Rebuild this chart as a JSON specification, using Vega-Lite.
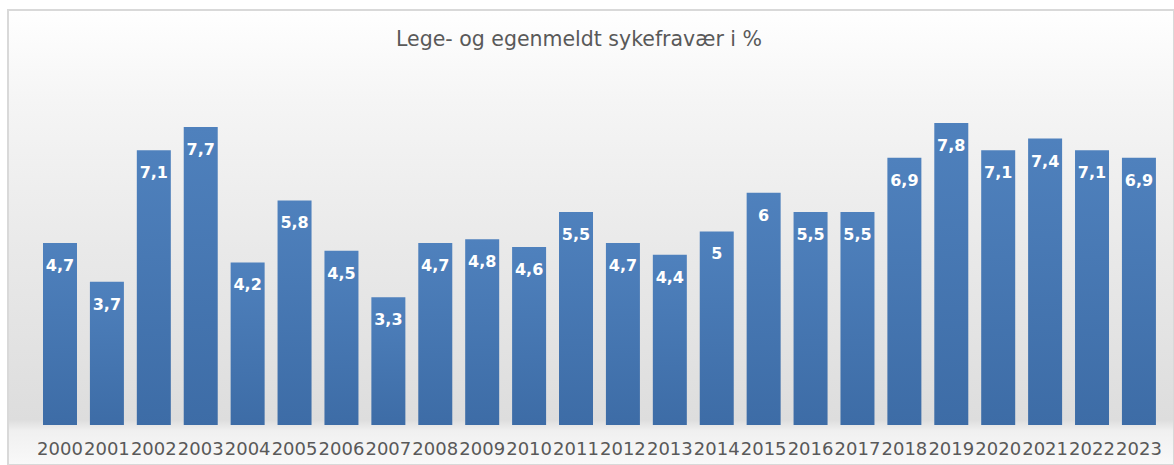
{
  "$schema": "https://vega.github.io/schema/vega-lite/v6.json",
  "autosize": "none",
  "width": 1166,
  "height": 455,
  "padding": {"left": 8, "top": 10, "right": 0, "bottom": 0},
  "background": "#ffffff",
  "config": {
    "locale": {"number": {"decimal": ",", "thousands": " ", "grouping": [3], "currency": ["", " kr"]}},
    "view": {
      "stroke": "#d9d9d9",
      "strokeWidth": 2,
      "fill": {
        "gradient": "linear", "x1": 0, "y1": 0, "x2": 0, "y2": 1,
        "stops": [
          {"offset": 0, "color": "#ffffff"},
          {"offset": 0.2, "color": "#f5f5f5"},
          {"offset": 0.53, "color": "#e9e9e9"},
          {"offset": 0.9, "color": "#dddddd"},
          {"offset": 0.925, "color": "#f0f0f0"},
          {"offset": 1, "color": "#f9f9f9"}
        ]
      }
    }
  },
  "title": {
    "text": "Lege- og egenmeldt sykefravær i %",
    "orient": "top",
    "anchor": "middle",
    "frame": "group",
    "offset": -36,
    "baseline": "alphabetic",
    "dx": -12,
    "dy": 20,
    "font": "DejaVu Sans",
    "fontSize": 20.5,
    "fontWeight": "normal",
    "color": "#595959"
  },
  "data": {
    "values": [
      {"year": "2000", "value": 4.7},
      {"year": "2001", "value": 3.7},
      {"year": "2002", "value": 7.1},
      {"year": "2003", "value": 7.7},
      {"year": "2004", "value": 4.2},
      {"year": "2005", "value": 5.8},
      {"year": "2006", "value": 4.5},
      {"year": "2007", "value": 3.3},
      {"year": "2008", "value": 4.7},
      {"year": "2009", "value": 4.8},
      {"year": "2010", "value": 4.6},
      {"year": "2011", "value": 5.5},
      {"year": "2012", "value": 4.7},
      {"year": "2013", "value": 4.4},
      {"year": "2014", "value": 5.0},
      {"year": "2015", "value": 6.0},
      {"year": "2016", "value": 5.5},
      {"year": "2017", "value": 5.5},
      {"year": "2018", "value": 6.9},
      {"year": "2019", "value": 7.8},
      {"year": "2020", "value": 7.1},
      {"year": "2021", "value": 7.4},
      {"year": "2022", "value": 7.1},
      {"year": "2023", "value": 6.9}
    ]
  },
  "encoding": {
    "x": {
      "field": "year",
      "type": "nominal",
      "sort": null,
      "scale": {"paddingInner": 0.2752, "paddingOuter": 0.5656, "align": 0.6595},
      "axis": {
        "title": null,
        "orient": "bottom",
        "offset": -29,
        "domain": false,
        "ticks": false,
        "grid": false,
        "labelAngle": 0,
        "labelOverlap": false,
        "labelBound": false,
        "labelPadding": 4,
        "labelFont": "DejaVu Sans",
        "labelFontSize": 18,
        "labelColor": "#595959"
      }
    },
    "y": {
      "field": "value",
      "type": "quantitative",
      "scale": {"domain": [-1.034, 10.72], "nice": false, "zero": false},
      "axis": null
    }
  },
  "layer": [
    {
      "mark": {
        "type": "bar",
        "fill": {
          "gradient": "linear", "x1": 0, "y1": 0, "x2": 0, "y2": 1,
          "stops": [
            {"offset": 0, "color": "#4f81bd"},
            {"offset": 1, "color": "#3d6ca6"}
          ]
        }
      }
    },
    {
      "mark": {
        "type": "text",
        "baseline": "middle",
        "dy": 23,
        "font": "DejaVu Sans",
        "fontWeight": "bold",
        "fontSize": 16,
        "fill": "#ffffff"
      },
      "encoding": {
        "text": {"field": "value", "type": "quantitative", "format": ".1~f"}
      }
    }
  ]
}
